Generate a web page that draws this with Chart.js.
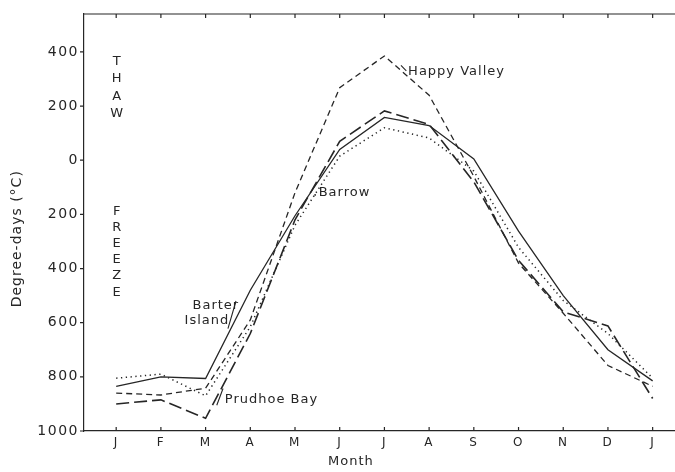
<!DOCTYPE html>
<html>
<head>
<meta charset="utf-8">
<script src="https://cdn.jsdelivr.net/npm/chart.js@4.4.1/dist/chart.umd.min.js"></script>
<style>
  html, body { margin: 0; padding: 0; background: #ffffff; }
  #wrap { width: 675px; height: 472px; }
</style>
</head>
<body>
<div id="wrap"><canvas id="c" width="675" height="472"></canvas></div>
<script>
// ---- data (degree-days; thaw positive, freeze negative) ----
const months = ['J','F','M','A','M','J','J','A','S','O','N','D','J'];
const barterIsland = [-835, -800, -806, -480, -205, 40, 158, 128, 5, -262, -500, -700, -815];
const happyValley  = [-860, -867, -842, -590, -120, 268, 385, 240, -60, -380, -565, -758, -835];
const barrow       = [-805, -790, -870, -615, -240, 15, 120, 82, -40, -322, -518, -640, -805];
const prudhoeBay   = [-900, -885, -953, -640, -220, 70, 182, 132, -80, -370, -560, -612, -880];
const yTickValues  = [400, 200, 0, -200, -400, -600, -800, -1000];
const thawLetters   = ['T','H','A','W'];
const freezeLetters = ['F','R','E','E','Z','E'];

const INK = '#262626';
const FONT = '"DejaVu Sans", "Liberation Sans", sans-serif';

function toPoints(arr) { return arr.map((v, i) => ({ x: i, y: v })); }

const annotations = {
  id: 'annotations',
  beforeDraw(chart) {
    chart.ctx.letterSpacing = '1.5px';
  },
  afterDatasetsDraw(chart) {
    const ctx = chart.ctx;
    const xs = chart.scales.x, ys = chart.scales.y;
    const area = chart.chartArea;
    const px = v => xs.getPixelForValue(v);
    const py = v => ys.getPixelForValue(v);
    ctx.save();
    ctx.strokeStyle = INK;
    ctx.fillStyle = INK;
    ctx.lineWidth = 1.2;
    // top frame line with inward ticks
    ctx.beginPath();
    ctx.moveTo(area.left, area.top);
    ctx.lineTo(area.right, area.top);
    months.forEach((m, i) => {
      ctx.moveTo(px(i), area.top);
      ctx.lineTo(px(i), area.top + 4);
      ctx.moveTo(px(i), area.bottom);
      ctx.lineTo(px(i), area.bottom - 4);
    });
    yTickValues.forEach(v => {
      ctx.moveTo(area.left, py(v));
      ctx.lineTo(area.left - 4, py(v));
    });
    ctx.stroke();

    ctx.letterSpacing = '1px';
    ctx.font = '13px ' + FONT;
    ctx.textAlign = 'center';
    ctx.textBaseline = 'middle';
    // THAW / FREEZE vertical letters
    thawLetters.forEach((ch, i) => ctx.fillText(ch, px(0) + 1, py(364 - i * 64)));
    freezeLetters.forEach((ch, i) => ctx.fillText(ch, px(0) + 1, py(-188 - i * 60)));

    // station labels
    ctx.textAlign = 'left';
    ctx.fillText('Happy Valley', px(6.53), py(327));
    ctx.fillText('Barrow', px(4.53), py(-121));
    ctx.fillText('Prudhoe Bay', px(2.43), py(-883));
    ctx.textAlign = 'center';
    ctx.fillText('Barter', px(2.23), py(-538));
    ctx.fillText('Island', px(2.03), py(-593));

    // leader strokes
    ctx.lineWidth = 1.1;
    ctx.beginPath();
    ctx.moveTo(px(2.5), py(-622)); ctx.lineTo(px(2.68), py(-520));
    ctx.moveTo(px(2.25), py(-905)); ctx.lineTo(px(2.39), py(-843));
    ctx.moveTo(px(6.37), py(350)); ctx.lineTo(px(6.49), py(330));
    ctx.stroke();
    ctx.beginPath();
    ctx.arc(px(4.45), py(-128), 0.9, 0, Math.PI * 2);
    ctx.fill();

    // axis titles
    ctx.textAlign = 'center';
    ctx.fillText('Month', px(5.25), 462);
    ctx.font = '14px ' + FONT;
    ctx.translate(17, py(-290));
    ctx.rotate(-Math.PI / 2);
    ctx.fillText('Degree-days (\u00B0C)', 0, 0);
    ctx.restore();
  }
};

const common = { fill: false, pointRadius: 0, tension: 0, borderColor: INK };

new Chart(document.getElementById('c'), {
  type: 'line',
  data: {
    datasets: [
      Object.assign({ label: 'Barter Island', data: toPoints(barterIsland), borderWidth: 1.3 }, common),
      Object.assign({ label: 'Happy Valley', data: toPoints(happyValley), borderWidth: 1.3, borderDash: [6, 4] }, common),
      Object.assign({ label: 'Barrow', data: toPoints(barrow), borderWidth: 1.5, borderDash: [1.3, 3.5] }, common),
      Object.assign({ label: 'Prudhoe Bay', data: toPoints(prudhoeBay), borderWidth: 1.6, borderDash: [13, 5] }, common)
    ]
  },
  options: {
    responsive: false,
    animation: false,
    devicePixelRatio: 1,
    layout: { padding: { top: 14, right: 0, left: 0, bottom: 0 } },
    plugins: { legend: { display: false }, tooltip: { enabled: false }, title: { display: false } },
    scales: {
      x: {
        type: 'linear',
        min: -0.72,
        max: 12.5,
        afterBuildTicks: s => { s.ticks = months.map((m, i) => ({ value: i })); },
        afterFit: s => { s.height = 41; },
        ticks: {
          autoSkip: false,
          maxRotation: 0,
          padding: 5,
          color: INK,
          font: { family: FONT, size: 12 },
          callback: (v) => months[v]
        },
        grid: { display: true, drawOnChartArea: false, drawTicks: false },
        border: { display: true, color: INK, width: 1.2 }
      },
      y: {
        type: 'linear',
        min: -1000,
        max: 540,
        afterBuildTicks: s => { s.ticks = yTickValues.map(v => ({ value: v })); },
        afterFit: s => { s.width = 84; },
        ticks: {
          padding: 5,
          color: INK,
          font: { family: FONT, size: 14 },
          callback: (v) => String(Math.abs(v))
        },
        grid: { display: true, drawOnChartArea: false, drawTicks: false },
        border: { display: true, color: INK, width: 1.2 }
      }
    }
  },
  plugins: [annotations]
});
</script>
</body>
</html>
